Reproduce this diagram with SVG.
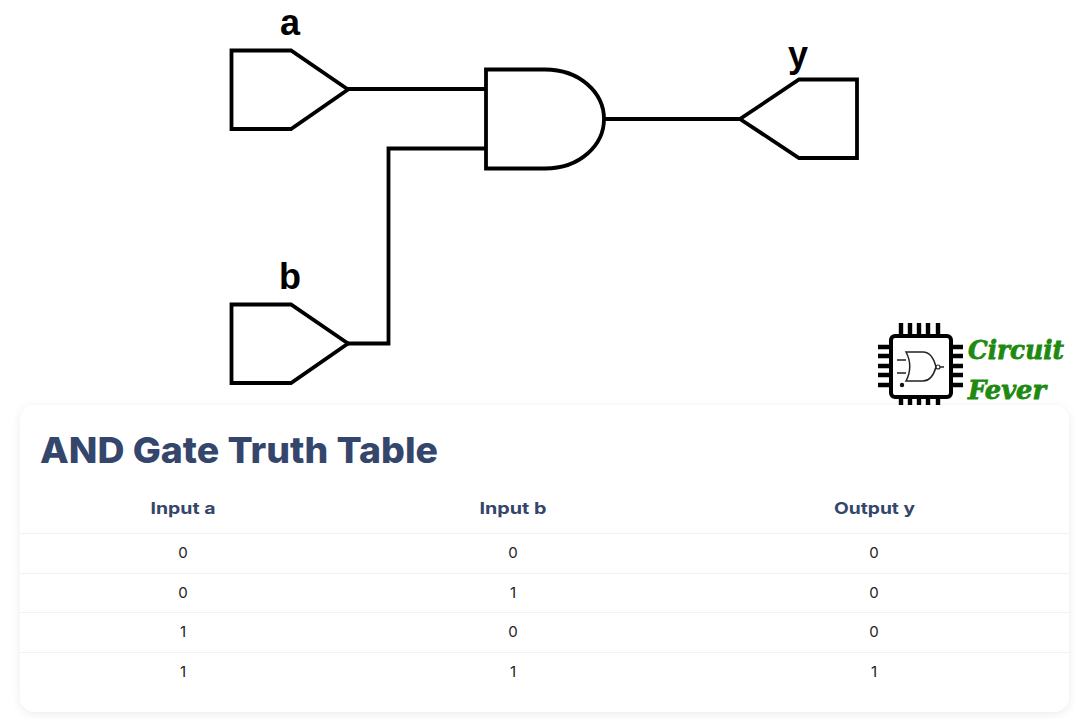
<svg xmlns="http://www.w3.org/2000/svg" width="1075" height="719" viewBox="0 0 1075 719">
<style>
.w{fill:none;stroke:#000;stroke-width:3.8;stroke-linejoin:miter;stroke-linecap:square}
.s{fill:#fff;stroke:#000;stroke-width:3.8;stroke-linejoin:miter}
.lbl{font-family:"Liberation Sans",Arial,sans-serif;font-weight:700;font-size:36px;fill:#000;text-anchor:middle}
.h{font-family:Inter,"Noto Sans",sans-serif;font-weight:700;font-size:16px;fill:#34466b;text-anchor:middle}
.c{font-family:Inter,"Noto Sans",sans-serif;font-weight:400;font-size:15px;fill:#222;text-anchor:middle}
.rule{stroke:#f2f2f2;stroke-width:1}
.pin{stroke:#000;stroke-width:4.400}
.logo{font-family:"DejaVu Serif","Liberation Serif",serif;font-weight:700;font-style:italic;fill:#1f8a10;stroke:#1f8a10;stroke-width:0.800}
</style>
<defs>
<filter id="sh" x="-5%" y="-10%" width="110%" height="120%"><feDropShadow dx="0" dy="2" stdDeviation="5" flood-color="#000" flood-opacity="0.08"/></filter>
</defs>
<rect width="1075" height="719" fill="#fff"/>
<g id="connectors">
<path class="w" d="M348 89H486"/>
<path class="w" d="M349 343.500H388.500V148.500H486"/>
<path class="w" d="M604 119H740"/>
</g>
<g id="input-a">
<path class="s" d="M231.500 50.500H291L348 89.500L291 129H231.500Z"/>
<text class="lbl" x="290" y="35">a</text>
</g>
<g id="input-b">
<path class="s" d="M231.500 304.500H291L348 343.500L291 383H231.500Z"/>
<text class="lbl" x="290" y="289">b</text>
</g>
<g id="and-gate">
<path class="s" d="M486 69.500H545C580 69.500 604 93 604 119C604 145 580 168.500 545 168.500H486Z"/>
</g>
<g id="output-y">
<path class="s" d="M857 79.500H799L740 119L799 158H857Z"/>
<text class="lbl" x="798" y="67">y</text>
</g>
<g id="logo">
<g class="pin">
<path d="M901 323V335M910 323V335M919 323V335M928 323V335M938 323V335"/>
<path d="M901 398V409M910 398V409M919 398V409M928 398V409M938 398V409"/>
<path d="M878 347H890M878 356H890M878 366H890M878 375H890M878 385H890"/>
<path d="M952 347H963M952 356H963M952 366H963M952 375H963M952 385H963"/>
</g>
<rect x="891" y="336" width="60" height="61" rx="4" fill="#fff" stroke="#000" stroke-width="4"/>
<path d="M906 352H923C930 352 934 359 936 367C934 374 930 381 923 381H906C911 372 911 361 906 352Z" fill="#fff" stroke="#222" stroke-width="1.500"/>
<circle cx="938" cy="367" r="2" fill="#fff" stroke="#222" stroke-width="1.200"/>
<path d="M940 367H944M897 360H906M897 373H906" stroke="#222" stroke-width="1.400"/>
<circle cx="902" cy="385" r="2.200" fill="#111"/>
<text class="logo" x="968" y="359" font-size="26" textLength="96" lengthAdjust="spacingAndGlyphs">Circuit</text>
<text class="logo" x="968" y="399" font-size="26" textLength="78" lengthAdjust="spacingAndGlyphs">Fever</text>
</g>
<g id="truth-table">
<rect x="20" y="405" width="1049" height="307" rx="15" fill="#fff" filter="url(#sh)"/>
<text x="40" y="463" font-family="Inter,'Noto Sans',sans-serif" font-weight="800" font-size="36" fill="#34466b" textLength="398" lengthAdjust="spacingAndGlyphs">AND Gate Truth Table</text>
<path class="rule" d="M20 533.500H1069M20 573.500H1069M20 612.500H1069M20 652.500H1069"/>
<text class="h" x="183" y="514" textLength="65" lengthAdjust="spacingAndGlyphs">Input a</text><text class="h" x="513" y="514" textLength="67" lengthAdjust="spacingAndGlyphs">Input b</text><text class="h" x="874.500" y="514" textLength="81" lengthAdjust="spacingAndGlyphs">Output y</text>
<text class="c" x="183" y="558">0</text><text class="c" x="513" y="558">0</text><text class="c" x="874" y="558">0</text>
<text class="c" x="183" y="598">0</text><text class="c" x="513" y="598">1</text><text class="c" x="874" y="598">0</text>
<text class="c" x="183" y="637">1</text><text class="c" x="513" y="637">0</text><text class="c" x="874" y="637">0</text>
<text class="c" x="183" y="677">1</text><text class="c" x="513" y="677">1</text><text class="c" x="874" y="677">1</text>
</g>
</svg>
